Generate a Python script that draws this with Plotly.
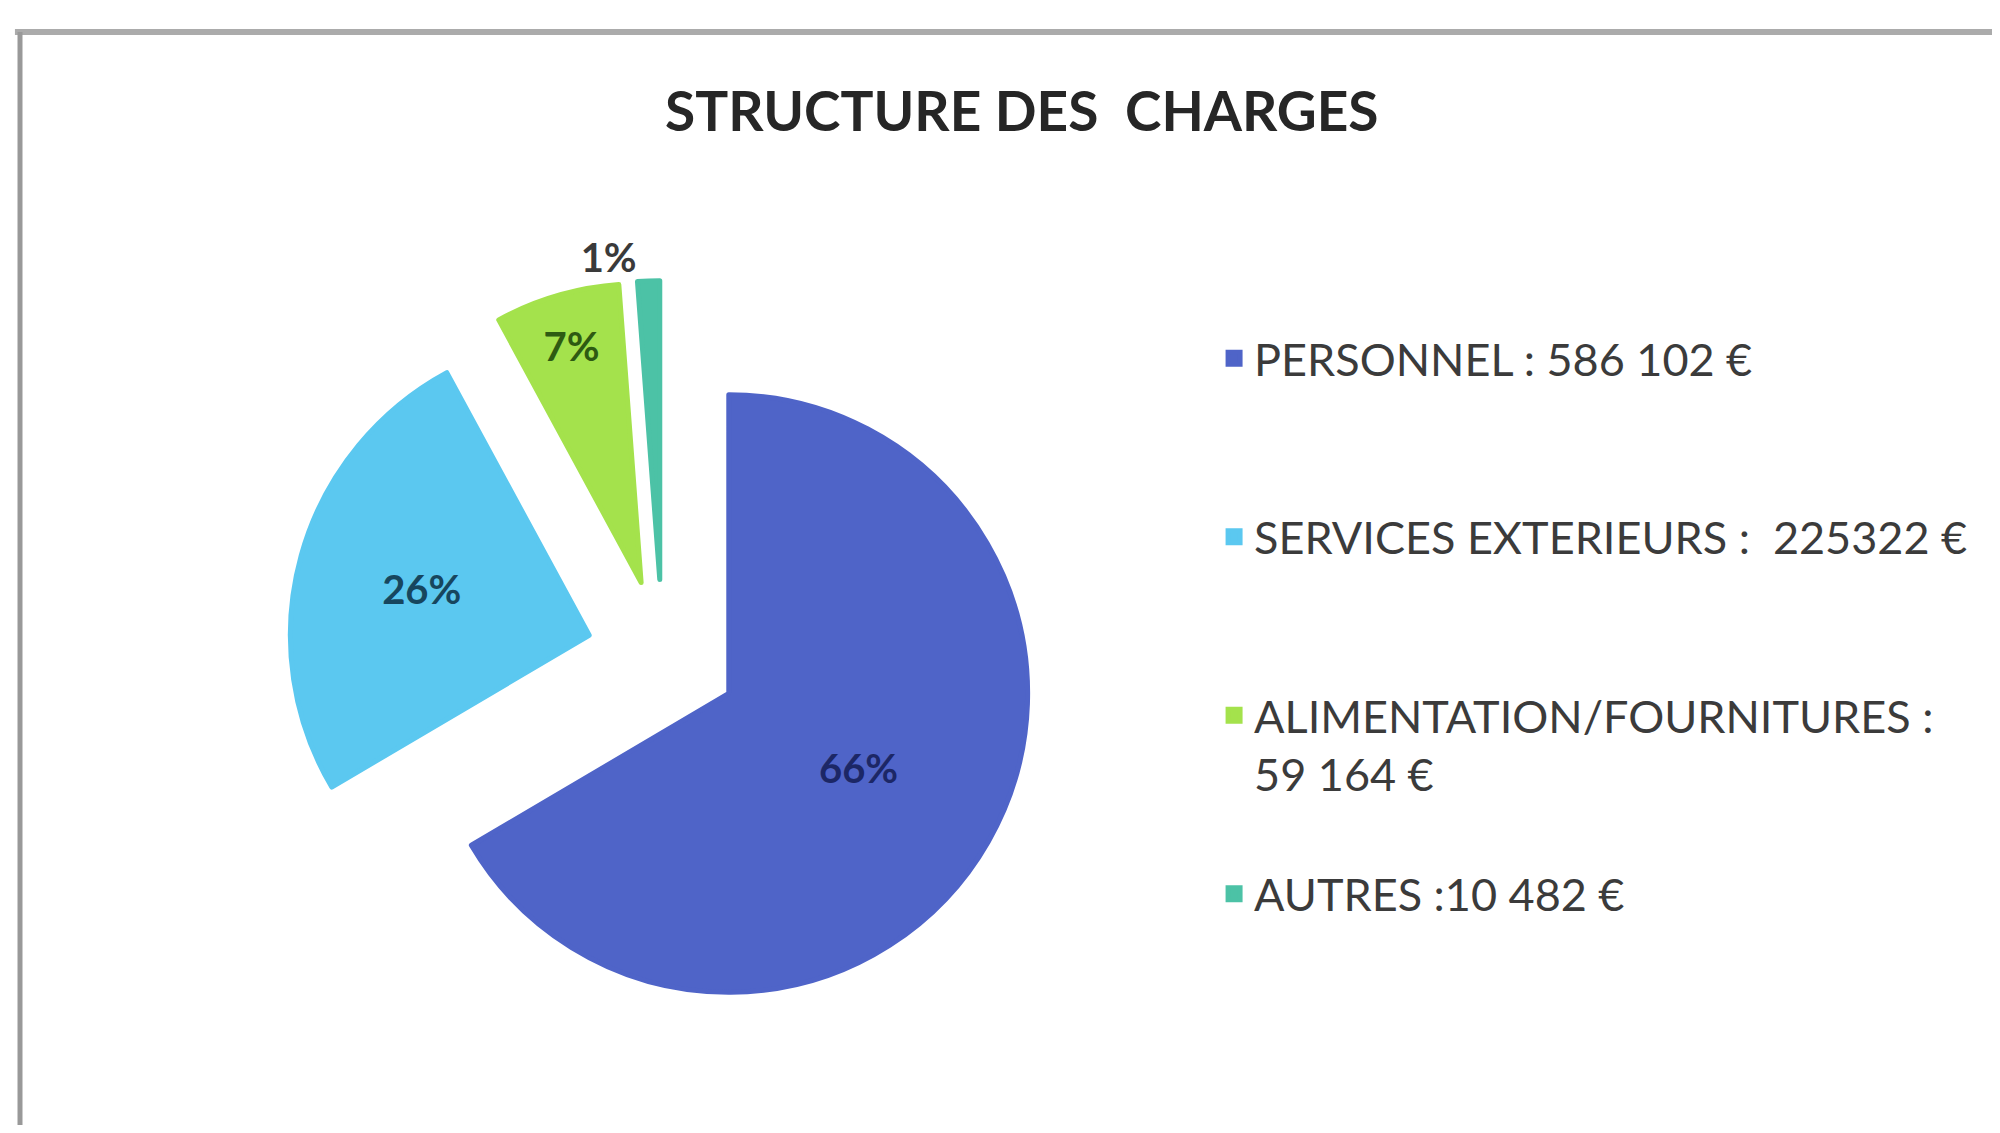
import plotly.graph_objects as go

# Data
labels = ["PERSONNEL : 586 102 €", "SERVICES EXTERIEURS :  225322 €",
          "ALIMENTATION/FOURNITURES :<br>59 164 €", "AUTRES :10 482 €"]
values = [586102, 225322, 59164, 10482]
pct_labels = ["66%", "26%", "7%", "1%"]
colors = ["#4F64C8", "#5BC8F0", "#A4E24C", "#4CC2A6"]
text_colors = ["#1C2766", "#17465E", "#2E5A12", "#3A3A3A"]
text_positions = ["inside", "inside", "inside", "outside"]
# padding lines so legend entries are spaced like the original
legend_pad = ["<br> <br> ", "<br> <br> ", "<br> ", ""]

legend_labels = [l + p for l, p in zip(labels, legend_pad)]

fig = go.Figure(go.Pie(
    labels=legend_labels,
    values=values,
    text=pct_labels,
    textinfo="text",
    sort=False,
    direction="clockwise",
    rotation=0,
    pull=[0.255] * len(values),
    marker=dict(colors=colors, line=dict(width=5, color=colors)),
    textposition=text_positions,
    insidetextorientation="horizontal",
    textfont=dict(family="Lato", size=40, color=text_colors, weight="bold"),
    domain=dict(x=[0.1409, 0.5190], y=[0.0844, 0.7559]),
    hoverinfo="label+value+percent",
))

fig.update_layout(
    width=1984, height=1117,
    margin=dict(l=0, r=0, t=0, b=0, autoexpand=False),
    paper_bgcolor="white",
    plot_bgcolor="white",
    title=dict(text="STRUCTURE DES\u00a0 CHARGES", x=0.511, xanchor="center",
               y=0.9067, yanchor="middle",
               font=dict(family="Lato", size=55, color="#262626", weight="bold")),
    showlegend=True,
    legend=dict(x=0.6079, y=0.7184, xanchor="left", yanchor="top",
                valign="top",
                font=dict(family="Lato", size=45, color="#3B3B3B"),
                bgcolor="rgba(0,0,0,0)"),
    shapes=[
        dict(type="line", xref="paper", yref="paper", x0=0.0035, x1=1.0,
             y0=0.9785, y1=0.9785, line=dict(color="#ABABAB", width=6)),
        dict(type="line", xref="paper", yref="paper", x0=0.00605, x1=0.00605,
             y0=0.0, y1=0.9785, line=dict(color="#999999", width=5)),
    ],
)

fig.write_html("out.html")
